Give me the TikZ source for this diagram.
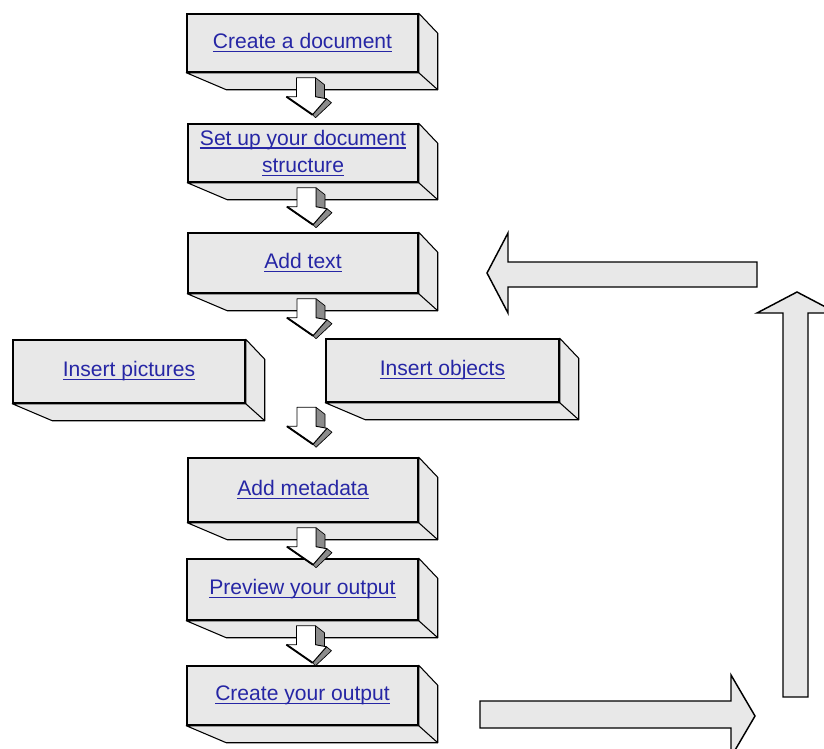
\documentclass[tikz,border=0pt]{standalone}
\usepackage{fontspec}
\setmainfont{Liberation Sans}
\usetikzlibrary{calc}
\definecolor{boxfill}{RGB}{232,232,232}
\definecolor{linkblue}{RGB}{38,38,165}
\definecolor{sidegray}{RGB}{140,140,140}

\newcommand{\ulink}[1]{\setbox0=\hbox{#1}\rlap{\rule[-2.6pt]{\wd0}{1pt}}\box0}

% name, L, T, R, B, text
\newcommand{\threedbox}[6]{%
  \node[boxfront, minimum width={(#4-#2)*0.75pt}, minimum height={(#5-#3)*0.75pt}] (#1) at ({(#2+#4)/2},{(#3+#5)/2}) {#6};
  \filldraw[boxside] (#1.south west) -- ($(#1.south west)+(40,17)$) -- ($(#1.south east)+(19,17)$)
     -- ($(#1.north east)+(19,20)$) -- (#1.north east) -- (#1.south east) -- cycle;
  \draw[boxside] (#1.south east) -- ($(#1.south east)+(19,17)$);
  \draw[boxedge] (#1.south west) -- (#1.south east) -- (#1.north east);
}

% small 3D down arrow, shift point = top left of the shaft
\newcommand{\downarr}[1]{%
  \begin{scope}[shift={(#1)}]
    \filldraw[smallside] (19,0) -- (28,7) -- (28,22) -- (19,19) -- cycle;
    \filldraw[smallside] (30,21) -- (35,25) -- (19,40) -- (16,37) -- cycle;
    \filldraw[smallfront] (0,0) -- (19,0) -- (19,19) -- (30,21) -- (16,37) -- (-10,19) -- (0,19) -- cycle;
    \draw[line width=1.4pt] (-10,19) -- (16,37);
  \end{scope}}

\begin{document}
\begin{tikzpicture}[x=0.75pt,y=-0.75pt,
  boxfront/.style={draw=black, line width=1.1pt, fill=boxfill, inner sep=0pt,
    text=linkblue, align=center, font=\fontsize{15.8pt}{19.5pt}\selectfont},
  boxside/.style={draw=black, line width=0.8pt, fill=boxfill, line join=round},
  boxedge/.style={draw=black, line width=1.1pt},
  smallfront/.style={draw=black, line width=0.7pt, fill=white, line join=round},
  smallside/.style={draw=black, line width=0.5pt, fill=sidegray, line join=round},
  bigarrow/.style={draw=black, line width=1.1pt, fill=boxfill, line join=miter}]
\useasboundingbox (0,0) rectangle (824,749);
\fill[white] (0,0) rectangle (824,749);

\threedbox{create}{187}{14}{418}{72}{\ulink{Create a document}}
\threedbox{setup}{188}{124}{418}{182}{\ulink{Set up your document}\\[1pt]\ulink{structure}}
\threedbox{text}{188}{233}{418}{293}{\ulink{Add text}}
\threedbox{pictures}{13}{340}{245}{403}{\ulink{Insert pictures}}
\threedbox{objects}{326}{339}{559}{402}{\ulink{Insert objects}}
\threedbox{meta}{188}{458}{418}{522}{\ulink{Add metadata}}
\threedbox{preview}{187}{559}{418}{620}{\ulink{Preview your output}}
\threedbox{output}{187}{666}{418}{725}{\ulink{Create your output}}

\downarr{$(create.south)+(-6,5)$}
\downarr{$(setup.south)+(-6,5)$}
\downarr{$(text.south)+(-6,5)$}
\downarr{$(meta.north)+(-6,-50)$}
\downarr{$(meta.south)+(-6,5)$}
\downarr{$(preview.south)+(-6,5)$}

\begin{scope}
\clip (0,0) rectangle (824,749);
% feedback loop arrows
\coordinate (loopstart) at (480,714.5);
\coordinate (loopend) at (487,273);
\filldraw[bigarrow] (loopstart) ++(0,-13.5) -- (731,701) -- (731,675) -- (755,716) -- (731,757) -- (731,728) -- (480,728) -- cycle;
\filldraw[bigarrow] (783,697) -- (783,313) -- (757,313) -- (797,292) -- (837,313) -- (808,313) -- (808,697) -- cycle;
\filldraw[bigarrow] (757,262) -- (508,262) -- (508,233) -- (loopend) -- (508,313) -- (508,287) -- (757,287) -- cycle;
\end{scope}
\end{tikzpicture}
\end{document}
